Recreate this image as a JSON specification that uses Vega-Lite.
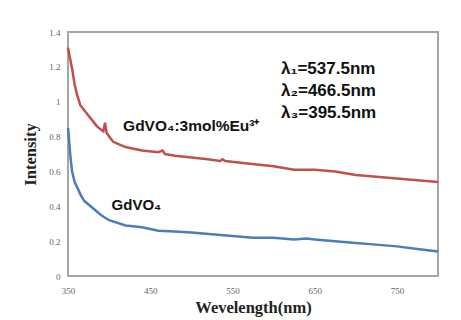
{
  "$schema": "https://vega.github.io/schema/vega-lite/v6.json",
  "width": 370,
  "height": 244,
  "autosize": {"type": "none"},
  "padding": {"left": 68, "top": 32, "right": 23, "bottom": 44},
  "background": "white",
  "config": {
    "view": {"stroke": "#a6a6a6", "strokeWidth": 2},
    "font": "Liberation Serif",
    "axis": {"labelOverlap": false, "labelFlush": false}
  },
  "datasets": {
    "curves": [
      {"wl": 350, "v": 1.31, "s": "Eu"}, {"wl": 352, "v": 1.26, "s": "Eu"}, {"wl": 355, "v": 1.19, "s": "Eu"},
      {"wl": 358, "v": 1.10, "s": "Eu"}, {"wl": 361, "v": 1.04, "s": "Eu"}, {"wl": 365, "v": 0.98, "s": "Eu"},
      {"wl": 370, "v": 0.95, "s": "Eu"}, {"wl": 375, "v": 0.92, "s": "Eu"}, {"wl": 380, "v": 0.89, "s": "Eu"},
      {"wl": 385, "v": 0.86, "s": "Eu"}, {"wl": 390, "v": 0.84, "s": "Eu"}, {"wl": 393, "v": 0.83, "s": "Eu"},
      {"wl": 395, "v": 0.88, "s": "Eu"}, {"wl": 397, "v": 0.82, "s": "Eu"}, {"wl": 400, "v": 0.80, "s": "Eu"},
      {"wl": 405, "v": 0.77, "s": "Eu"}, {"wl": 410, "v": 0.76, "s": "Eu"}, {"wl": 420, "v": 0.74, "s": "Eu"},
      {"wl": 440, "v": 0.72, "s": "Eu"}, {"wl": 460, "v": 0.71, "s": "Eu"}, {"wl": 465, "v": 0.72, "s": "Eu"},
      {"wl": 468, "v": 0.70, "s": "Eu"}, {"wl": 480, "v": 0.69, "s": "Eu"}, {"wl": 500, "v": 0.68, "s": "Eu"},
      {"wl": 520, "v": 0.67, "s": "Eu"}, {"wl": 535, "v": 0.66, "s": "Eu"}, {"wl": 538, "v": 0.67, "s": "Eu"},
      {"wl": 541, "v": 0.66, "s": "Eu"}, {"wl": 560, "v": 0.65, "s": "Eu"}, {"wl": 580, "v": 0.64, "s": "Eu"},
      {"wl": 600, "v": 0.63, "s": "Eu"}, {"wl": 625, "v": 0.61, "s": "Eu"}, {"wl": 650, "v": 0.61, "s": "Eu"},
      {"wl": 675, "v": 0.60, "s": "Eu"}, {"wl": 700, "v": 0.58, "s": "Eu"}, {"wl": 725, "v": 0.57, "s": "Eu"},
      {"wl": 750, "v": 0.56, "s": "Eu"}, {"wl": 775, "v": 0.55, "s": "Eu"}, {"wl": 800, "v": 0.54, "s": "Eu"},
      {"wl": 350, "v": 0.85, "s": "Gd"}, {"wl": 351, "v": 0.80, "s": "Gd"}, {"wl": 352, "v": 0.74, "s": "Gd"},
      {"wl": 353, "v": 0.68, "s": "Gd"}, {"wl": 355, "v": 0.60, "s": "Gd"}, {"wl": 358, "v": 0.54, "s": "Gd"},
      {"wl": 362, "v": 0.50, "s": "Gd"}, {"wl": 366, "v": 0.46, "s": "Gd"}, {"wl": 370, "v": 0.43, "s": "Gd"},
      {"wl": 375, "v": 0.41, "s": "Gd"}, {"wl": 380, "v": 0.39, "s": "Gd"}, {"wl": 390, "v": 0.35, "s": "Gd"},
      {"wl": 400, "v": 0.32, "s": "Gd"}, {"wl": 420, "v": 0.29, "s": "Gd"}, {"wl": 440, "v": 0.28, "s": "Gd"},
      {"wl": 460, "v": 0.26, "s": "Gd"}, {"wl": 480, "v": 0.255, "s": "Gd"}, {"wl": 500, "v": 0.25, "s": "Gd"},
      {"wl": 525, "v": 0.24, "s": "Gd"}, {"wl": 550, "v": 0.23, "s": "Gd"}, {"wl": 575, "v": 0.22, "s": "Gd"},
      {"wl": 600, "v": 0.22, "s": "Gd"}, {"wl": 625, "v": 0.21, "s": "Gd"}, {"wl": 640, "v": 0.215, "s": "Gd"},
      {"wl": 650, "v": 0.21, "s": "Gd"}, {"wl": 675, "v": 0.20, "s": "Gd"}, {"wl": 700, "v": 0.19, "s": "Gd"},
      {"wl": 725, "v": 0.18, "s": "Gd"}, {"wl": 750, "v": 0.17, "s": "Gd"}, {"wl": 775, "v": 0.155, "s": "Gd"},
      {"wl": 800, "v": 0.14, "s": "Gd"}
    ],
    "labels": [
      {"wl": 417, "v": 0.86, "t": "GdVO₄:3mol%Eu³⁺", "sz": 15.5},
      {"wl": 403, "v": 0.41, "t": "GdVO₄", "sz": 15},
      {"wl": 609, "v": 1.19, "t": "λ₁=537.5nm", "sz": 17},
      {"wl": 609, "v": 1.06, "t": "λ₂=466.5nm", "sz": 17},
      {"wl": 609, "v": 0.935, "t": "λ₃=395.5nm", "sz": 17}
    ]
  },
  "encoding": {
    "x": {
      "field": "wl", "type": "quantitative",
      "scale": {"domain": [350, 800], "nice": false},
      "axis": {
        "values": [350, 450, 550, 650, 750],
        "title": "Wevelength(nm)", "titleFont": "Liberation Serif", "titleFontSize": 16.5,
        "titleFontWeight": "bold", "titleColor": "#222", "titlePadding": 4,
        "labelFont": "Liberation Serif", "labelFontSize": 9, "labelColor": "#666",
        "labelPadding": 10, "ticks": false, "domain": false, "grid": false
      }
    },
    "y": {
      "field": "v", "type": "quantitative",
      "scale": {"domain": [0, 1.4], "nice": false},
      "axis": {
        "values": [0, 0.2, 0.4, 0.6, 0.8, 1, 1.2, 1.4], "format": ".1~f",
        "title": "Intensity", "titleFont": "Liberation Serif", "titleFontSize": 16.5,
        "titleFontWeight": "bold", "titleColor": "#222", "titlePadding": 10,
        "labelFont": "Liberation Serif", "labelFontSize": 9, "labelColor": "#666",
        "labelPadding": 8, "ticks": false, "domain": false, "grid": false
      }
    }
  },
  "layer": [
    {
      "data": {"name": "curves"},
      "mark": {"type": "line", "strokeWidth": 2.5},
      "encoding": {
        "color": {
          "field": "s", "type": "nominal",
          "scale": {"domain": ["Eu", "Gd"], "range": ["#c0504d", "#4a7ebb"]},
          "legend": null
        },
        "detail": {"field": "s"}
      }
    },
    {
      "data": {"name": "labels"},
      "mark": {"type": "text", "align": "left", "baseline": "middle", "font": "Liberation Sans", "fontWeight": "bold", "color": "#111"},
      "encoding": {
        "text": {"field": "t"},
        "size": {"field": "sz", "type": "quantitative", "scale": null}
      }
    }
  ]
}
